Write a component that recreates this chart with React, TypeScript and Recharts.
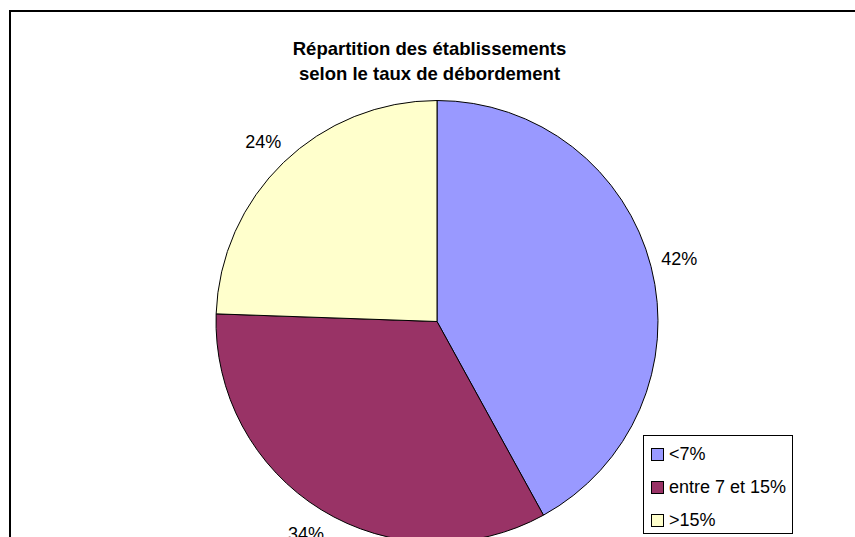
import React from 'react';
import { PieChart, Pie, Cell, Legend } from 'recharts';

const categories = ['<7%', 'entre 7 et 15%', '>15%'];
const shares = [42.0, 33.55, 24.45];
const COLORS = ['#9999FF', '#993366', '#FFFFCC'];

const titleLines = ['Répartition des établissements', 'selon le taux de débordement'];

const data = categories.map((name, i) => ({ name, value: shares[i] }));

const FONT = '"Liberation Sans", Arial, sans-serif';
const RADIAN = Math.PI / 180;

const renderLabel = (props: any) => {
  const { cx, cy, midAngle, outerRadius, percent } = props;
  const r = outerRadius + 29;
  const x = cx + r * Math.cos(-midAngle * RADIAN);
  const y = cy + r * Math.sin(-midAngle * RADIAN);
  return (
    <text x={x} y={y} textAnchor="middle" dominantBaseline="central" fill="#000" fontSize={18} fontFamily={FONT}>
      {`${Math.round(percent * 100)}%`}
    </text>
  );
};

const renderLegend = () => (
  <div style={{ border: '1px solid #000', width: 150, height: 99, boxSizing: 'border-box', background: '#fff', fontFamily: FONT, fontSize: 18, paddingTop: 2 }}>
    {categories.map((c, i) => (
      <div key={c} style={{ display: 'flex', alignItems: 'center', height: 33, paddingLeft: 7 }}>
        <span style={{ width: 11, height: 11, background: COLORS[i], border: '1px solid #000', marginRight: 5, display: 'inline-block' }} />
        <span>{c}</span>
      </div>
    ))}
  </div>
);

export default function App() {
  return (
    <div style={{ position: 'absolute', left: 0, top: 0, width: 855, height: 537, background: '#fff', overflow: 'hidden' }}>
      <div style={{ position: 'absolute', left: 9, top: 10, width: 900, height: 600, border: '2px solid #000', boxSizing: 'border-box' }} />
      {titleLines.map((t, i) => (
        <div key={t} style={{ position: 'absolute', left: 0, width: 859, top: 38 + i * 25, textAlign: 'center', fontFamily: FONT, fontWeight: 'bold', fontSize: 18.5, lineHeight: '22px', color: '#000' }}>
          {t}
        </div>
      ))}
      <div style={{ position: 'absolute', left: 0, top: 0 }}>
        <PieChart width={855} height={537} margin={{ top: 0, right: 0, bottom: 0, left: 0 }}>
          <Pie
            data={data}
            dataKey="value"
            nameKey="name"
            cx={437}
            cy={321.5}
            innerRadius={0}
            outerRadius={221}
            startAngle={90}
            endAngle={-270}
            stroke="#000"
            strokeWidth={1}
            label={renderLabel}
            labelLine={false}
            isAnimationActive={false}
          >
            {data.map((d, i) => (
              <Cell key={d.name} fill={COLORS[i]} />
            ))}
          </Pie>
          <Legend layout="vertical" wrapperStyle={{ left: 643, top: 435, width: 150 }} content={renderLegend} />
        </PieChart>
      </div>
    </div>
  );
}
